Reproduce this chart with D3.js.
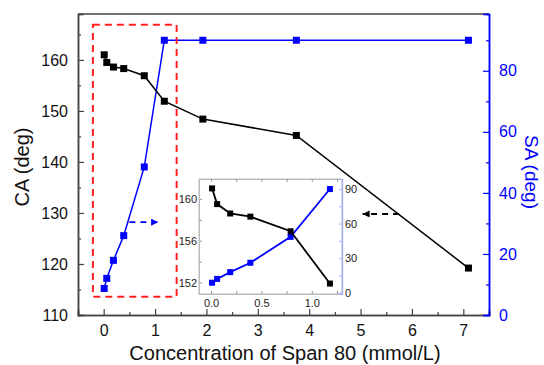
<!DOCTYPE html>
<html>
<head>
<meta charset="utf-8">
<script src="https://cdn.jsdelivr.net/npm/d3@7"></script>
<style>
  body { margin: 0; background: #fff; }
  svg { font-family: "Liberation Sans", Arial, sans-serif; }
</style>
</head>
<body>
<div id="chart"></div>
<script>
// concentration of Span 80 (mmol/L)
const conc = [0.01, 0.06, 0.19, 0.39, 0.79, 1.18, 1.93, 3.75, 7.1]
// contact angle (deg), left axis
const caValues = [161.0, 159.5, 158.6, 158.3, 156.9, 151.9, 148.4, 145.2, 119.2]
// sliding angle (deg), right axis
const saValues = [8.7, 12.0, 17.9, 26.0, 48.5, 90, 90, 90, 90]
// inset shows the first six points
const insetCount = 6

const xTicks = [0, 1, 2, 3, 4, 5, 6, 7]
const caTicks = [110, 120, 130, 140, 150, 160]
const saTicks = [0, 20, 40, 60, 80]
const insetXTicks = [0.0, 0.5, 1.0]
const insetCaTicks = [152, 156, 160]
const insetSaTicks = [0, 30, 60, 90]

const width = 544, height = 365
const blue = '#0000ff'

const svg = d3.select('#chart').append('svg').attr('width', width).attr('height', height)

// main scales
const x = d3.scaleLinear().domain([-0.5, 7.5]).range([78, 489])
const yL = d3.scaleLinear().domain([110, 169]).range([315, 14])
const yR = d3.scaleLinear().domain([0, 98.6]).range([315, 14])

const main = svg.append('g')

// frame top
main.append('line').attr('x1', x.range()[0]).attr('x2', x.range()[1])
  .attr('y1', yL.range()[1]).attr('y2', yL.range()[1]).attr('stroke', '#444').attr('stroke-width', 1.5)

// bottom axis, ticks inward
const xAxis = main.append('g').attr('transform', `translate(0,${yL.range()[0]})`)
  .call(d3.axisBottom(x).tickValues(xTicks).tickSize(-6).tickPadding(10).tickFormat(d3.format('d')))
xAxis.append('g').call(d3.axisBottom(x).tickValues(d3.range(-0.5, 7.6, 1)).tickSize(-3).tickFormat(''))
xAxis.selectAll('.domain').attr('stroke', '#444').attr('stroke-width', 1.5)
xAxis.selectAll('.tick line').attr('stroke', '#444').attr('stroke-width', 1.2)
xAxis.selectAll('text').attr('font-size', 16).attr('fill', '#111')

// left axis
const yAxisL = main.append('g').attr('transform', `translate(${x.range()[0]},0)`)
  .call(d3.axisLeft(yL).tickValues(caTicks).tickSize(-6).tickPadding(10))
yAxisL.append('g').call(d3.axisLeft(yL).tickValues([115, 125, 135, 145, 155, 165]).tickSize(-3).tickFormat(''))
yAxisL.selectAll('.domain').attr('stroke', '#444').attr('stroke-width', 1.5)
yAxisL.selectAll('.tick line').attr('stroke', '#444').attr('stroke-width', 1.2)
yAxisL.selectAll('text').attr('font-size', 16).attr('fill', '#111')

// right axis, blue
const yAxisR = main.append('g').attr('transform', `translate(${x.range()[1]},0)`)
  .call(d3.axisRight(yR).tickValues(saTicks).tickSize(-6).tickPadding(10))
yAxisR.append('g').call(d3.axisRight(yR).tickValues([10, 30, 50, 70, 90]).tickSize(-3).tickFormat(''))
yAxisR.selectAll('.domain').attr('stroke', blue).attr('stroke-width', 1.5)
yAxisR.selectAll('.tick line').attr('stroke', blue).attr('stroke-width', 1.2)
yAxisR.selectAll('text').attr('font-size', 16).attr('fill', blue)

// axis titles
svg.append('text').attr('x', 285).attr('y', 360).attr('text-anchor', 'middle')
  .attr('font-size', 20).attr('fill', '#111').text('Concentration of Span 80 (mmol/L)')
svg.append('text').attr('transform', 'translate(29,167) rotate(-90)').attr('text-anchor', 'middle')
  .attr('font-size', 20).attr('fill', '#111').text('CA (deg)')
svg.append('text').attr('transform', 'translate(525,172) rotate(90)').attr('text-anchor', 'middle')
  .attr('font-size', 19).attr('fill', blue).text('SA (deg)')

const caData = conc.map((c, i) => ({ x: c, y: caValues[i] }))
const saData = conc.map((c, i) => ({ x: c, y: saValues[i] }))

// series + markers
function drawSeries(g, data, xs, ys, color, size, lw) {
  g.append('path').datum(data)
    .attr('d', d3.line().x(d => xs(d.x)).y(d => ys(d.y)))
    .attr('fill', 'none').attr('stroke', color).attr('stroke-width', lw)
  g.selectAll(null).data(data).enter().append('rect')
    .attr('x', d => xs(d.x) - size / 2).attr('y', d => ys(d.y) - size / 2)
    .attr('width', size).attr('height', size).attr('fill', color)
}

drawSeries(main, saData, x, yR, blue, 7, 1.5)
drawSeries(main, caData, x, yL, '#000', 7, 1.5)

// red dashed box round the low concentration points
main.append('rect')
  .attr('x', x(-0.21)).attr('y', yL(166.9))
  .attr('width', x(1.42) - x(-0.21)).attr('height', yL(113.6) - yL(166.9))
  .attr('fill', 'none').attr('stroke', '#ff2020').attr('stroke-width', 2).attr('stroke-dasharray', '7,5')

// arrow heads
const defs = svg.append('defs')
function arrowHead(id, color) {
  defs.append('marker').attr('id', id).attr('viewBox', '0 0 10 10')
    .attr('refX', 10).attr('refY', 5).attr('markerWidth', 9).attr('markerHeight', 7)
    .attr('markerUnits', 'userSpaceOnUse').attr('orient', 'auto')
    .append('path').attr('d', 'M0,0 L10,5 L0,10 Z').attr('fill', color)
}
arrowHead('arrowBlue', blue)
arrowHead('arrowBlack', '#000')

main.append('line').attr('x1', x(0.5)).attr('x2', x(1.06)).attr('y1', yL(128.2)).attr('y2', yL(128.2))
  .attr('stroke', blue).attr('stroke-width', 1.8).attr('stroke-dasharray', '6,5')
  .attr('marker-end', 'url(#arrowBlue)')
main.append('line').attr('x1', x(5.75)).attr('x2', x(5.04)).attr('y1', yL(129.8)).attr('y2', yL(129.8))
  .attr('stroke', '#000').attr('stroke-width', 1.8).attr('stroke-dasharray', '6,5')
  .attr('marker-end', 'url(#arrowBlack)')

// inset
const ix = d3.scaleLinear().domain([-0.12, 1.3]).range([199, 342])
const iyL = d3.scaleLinear().domain([150.9, 161.9]).range([294, 179])
const iyR = d3.scaleLinear().domain([-1.1, 98.7]).range([294, 179])
const inset = svg.append('g')

inset.append('rect').attr('x', ix.range()[0]).attr('y', iyL.range()[1])
  .attr('width', ix.range()[1] - ix.range()[0]).attr('height', iyL.range()[0] - iyL.range()[1])
  .attr('fill', '#fff').attr('stroke', '#bbb').attr('stroke-width', 1)

const ixAxis = inset.append('g').attr('transform', `translate(0,${iyL.range()[0]})`)
  .call(d3.axisBottom(ix).tickValues(insetXTicks).tickSize(-3).tickPadding(5).tickFormat(d3.format('.1f')))
ixAxis.append('g').call(d3.axisBottom(ix).tickValues([0.25, 0.75, 1.25]).tickSize(-3).tickFormat(''))
const ixTop = inset.append('g').attr('transform', `translate(0,${iyL.range()[1]})`)
  .call(d3.axisTop(ix).tickValues([0, 0.25, 0.5, 0.75, 1.0, 1.25]).tickSize(-3).tickFormat(''))
const iyAxisL = inset.append('g').attr('transform', `translate(${ix.range()[0]},0)`)
  .call(d3.axisLeft(iyL).tickValues(insetCaTicks).tickSize(-3).tickPadding(2))
iyAxisL.append('g').call(d3.axisLeft(iyL).tickValues([154, 158]).tickSize(-3).tickFormat(''))
const iyAxisR = inset.append('g').attr('transform', `translate(${ix.range()[1]},0)`)
  .call(d3.axisRight(iyR).tickValues(insetSaTicks).tickSize(-3).tickPadding(3))
iyAxisR.append('g').call(d3.axisRight(iyR).tickValues([15, 45, 75]).tickSize(-3).tickFormat(''))

for (const a of [ixAxis, ixTop, iyAxisL]) {
  a.selectAll('.domain').attr('stroke', '#bbb')
  a.selectAll('.tick line').attr('stroke', '#999')
}
iyAxisR.selectAll('.domain').attr('stroke', '#aab0ff').attr('stroke-width', 1.2)
iyAxisR.selectAll('.tick line').attr('stroke', '#aab0ff')
inset.selectAll('text').attr('font-size', 11).attr('fill', '#222')

drawSeries(inset, saData.slice(0, insetCount), ix, iyR, blue, 6, 1.8)
drawSeries(inset, caData.slice(0, insetCount), ix, iyL, '#000', 6, 1.8)
</script>
</body>
</html>
